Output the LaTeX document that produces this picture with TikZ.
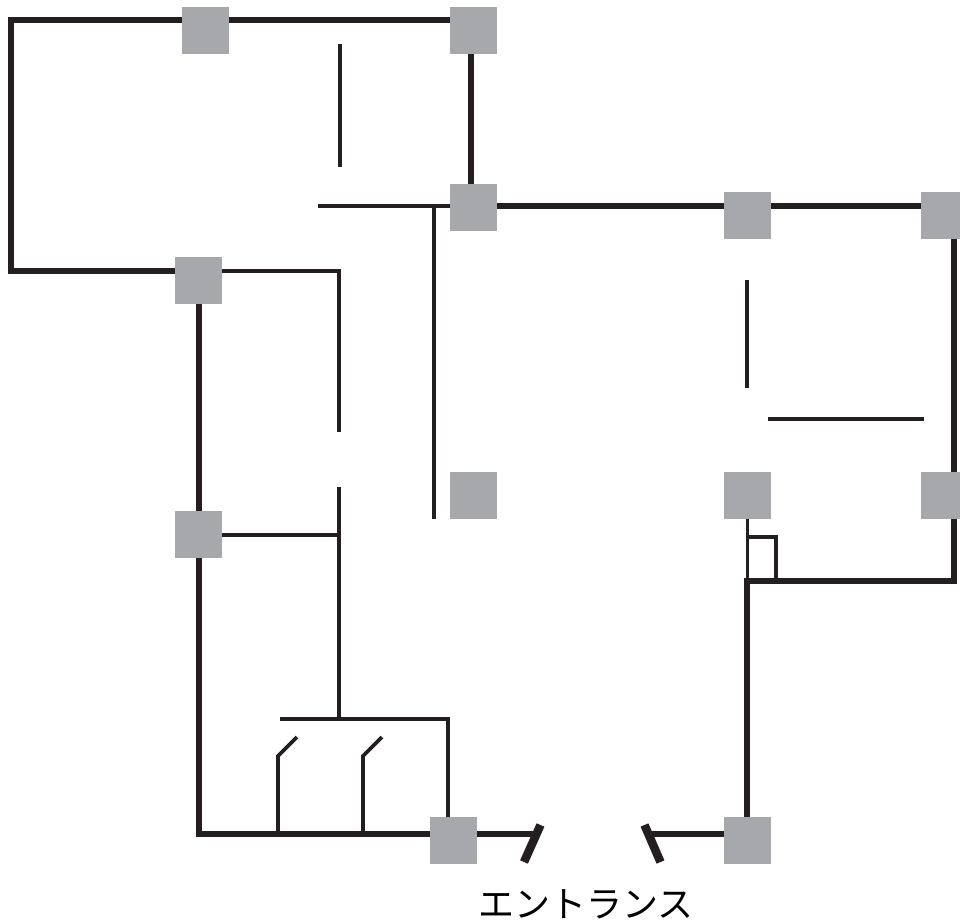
\documentclass[tikz,border=0pt]{standalone}
\usepackage{fontspec}
\newfontfamily\cjk{Noto Sans CJK JP}
\definecolor{pillar}{RGB}{167,168,171}
\definecolor{wall}{RGB}{35,31,32}
\tikzset{
  pillarbox/.style={fill=pillar,draw=none,minimum size=47pt,inner sep=0pt,outer sep=0pt},
  outerwall/.style={draw=wall,line width=6pt},
  innerwall/.style={draw=wall,line width=3.6pt},
  doorjamb/.style={draw=wall,line width=8.5pt},
}
\begin{document}
\begin{tikzpicture}[x=1pt,y=-1pt]
    \useasboundingbox (0,0) rectangle (960,923);

    % outer walls
    \draw[outerwall] (205,20) -- (11,20) -- (11,270.5) -- (198,270.5);
    \draw[outerwall] (205,20) -- (473,20);
    \draw[outerwall] (471,30) -- (471,207);
    \draw[outerwall] (473,206) -- (944,206);
    \draw[outerwall] (954,215) -- (954,581) -- (747,581);
    \draw[outerwall] (747,578) -- (747,834);
    \draw[outerwall] (199,280) -- (199,834) -- (453,834);
    \draw[outerwall] (453,834) -- (533,834);
    \draw[outerwall] (650,834) -- (747,834);

    % door jambs
    \draw[doorjamb] (540.5,825) -- (524,862);
    \draw[doorjamb] (644.5,825) -- (660.5,862);

    % inner walls
    \draw[innerwall] (340,44) -- (340,167);
    \draw[innerwall] (318,206) -- (473,206);
    \draw[innerwall] (434,206) -- (434,519);
    \draw[innerwall] (198,271) -- (339,271) -- (339,432);
    \draw[innerwall] (339,487) -- (339,719);
    \draw[innerwall] (198,535) -- (339,535);
    \draw[innerwall] (280,719) -- (448,719) -- (448,834);
    \draw[innerwall] (278,834) -- (278,756) -- (297,737);
    \draw[innerwall] (363,834) -- (363,756) -- (382,737);
    \draw[innerwall] (747,280) -- (747,388);
    \draw[innerwall] (768,419) -- (924,419);
    \draw[innerwall] (747.5,495) -- (747.5,581);
    \draw[innerwall] (747.5,537) -- (776,537) -- (776,581);

    % pillars
    \foreach \px/\py/\pname in {205.5/30.5/a,473.5/30.5/b,473.5/207.5/c,747.5/215.5/d,944.5/215.5/e,198.5/280.5/f,
        473.5/495.5/g,747.5/495.5/h,944.5/495.5/i,198.5/534.5/j,453.5/840.5/k,747.5/840.5/l}
      \node[pillarbox] (p\pname) at (\px,\py) {};

    \node (entrance) at (586,904) {\cjk\fontsize{36}{36}\selectfont エントランス};
\end{tikzpicture}
\end{document}
